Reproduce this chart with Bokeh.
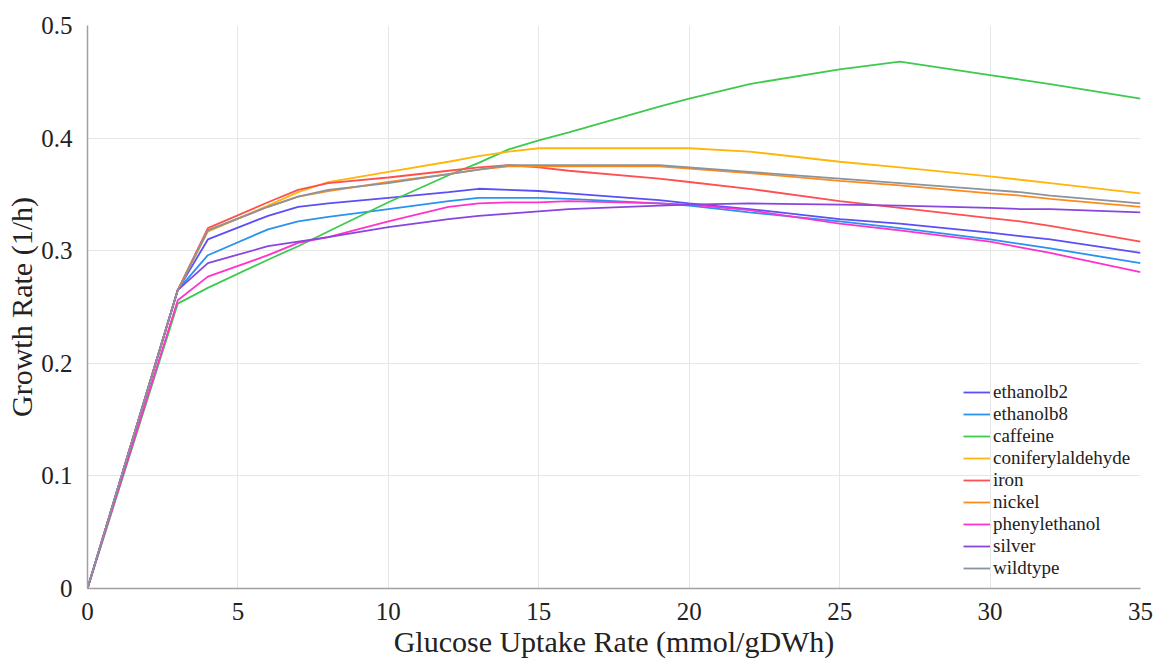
from bokeh.plotting import figure
from bokeh.embed import file_html
from bokeh.resources import INLINE
from bokeh.models import FixedTicker, Legend, LegendItem

# ---- data ----
uptake = [0, 3, 4, 6, 7, 8, 10, 12, 13, 14, 15, 16, 19, 20, 22, 25, 27, 30, 31, 32, 35]

ethanolb2 = [0, 0.265, 0.310, 0.331, 0.339, 0.342, 0.347, 0.352, 0.355, 0.354, 0.353, 0.351, 0.345, 0.342, 0.337, 0.328, 0.324, 0.316, 0.313, 0.310, 0.298]
ethanolb8 = [0, 0.265, 0.296, 0.319, 0.326, 0.330, 0.337, 0.344, 0.347, 0.347, 0.347, 0.346, 0.342, 0.340, 0.334, 0.326, 0.320, 0.310, 0.306, 0.302, 0.289]
caffeine = [0, 0.253, 0.267, 0.292, 0.304, 0.317, 0.343, 0.367, 0.378, 0.390, 0.398, 0.405, 0.428, 0.435, 0.448, 0.461, 0.468, 0.456, 0.452, 0.448, 0.435]
coniferylaldehyde = [0, 0.265, 0.317, 0.340, 0.352, 0.361, 0.370, 0.379, 0.384, 0.388, 0.391, 0.391, 0.391, 0.391, 0.388, 0.379, 0.374, 0.366, 0.363, 0.360, 0.351]
iron = [0, 0.265, 0.320, 0.343, 0.354, 0.360, 0.365, 0.371, 0.374, 0.376, 0.374, 0.371, 0.364, 0.361, 0.355, 0.344, 0.338, 0.329, 0.326, 0.322, 0.308]
nickel = [0, 0.265, 0.318, 0.339, 0.348, 0.353, 0.361, 0.368, 0.372, 0.375, 0.375, 0.375, 0.375, 0.373, 0.369, 0.362, 0.358, 0.351, 0.349, 0.346, 0.339]
phenylethanol = [0, 0.256, 0.277, 0.296, 0.307, 0.312, 0.326, 0.339, 0.342, 0.343, 0.343, 0.344, 0.342, 0.341, 0.336, 0.324, 0.318, 0.308, 0.303, 0.298, 0.281]
silver = [0, 0.265, 0.289, 0.304, 0.308, 0.312, 0.321, 0.328, 0.331, 0.333, 0.335, 0.337, 0.340, 0.341, 0.342, 0.341, 0.340, 0.338, 0.337, 0.337, 0.334]
wildtype = [0, 0.265, 0.318, 0.339, 0.348, 0.354, 0.360, 0.368, 0.372, 0.376, 0.376, 0.376, 0.376, 0.374, 0.370, 0.364, 0.360, 0.354, 0.352, 0.349, 0.342]

names = ["ethanolb2", "ethanolb8", "caffeine", "coniferylaldehyde", "iron",
         "nickel", "phenylethanol", "silver", "wildtype"]
series = [ethanolb2, ethanolb8, caffeine, coniferylaldehyde, iron,
          nickel, phenylethanol, silver, wildtype]
colors = ["#5b4ff5", "#2a92f0", "#3ec94f", "#ffb60a", "#ff4f4f",
          "#ff8a1c", "#ff33cc", "#8a45e0", "#8a949e"]

x_ticks = [0, 5, 10, 15, 20, 25, 30, 35]
y_ticks = [0, 0.1, 0.2, 0.3, 0.4, 0.5]
y_tick_labels = ["0", "0.1", "0.2", "0.3", "0.4", "0.5"]

FONT = "serif"

p = figure(width=1157, height=661, output_backend="svg", toolbar_location=None,
           x_range=(0, 35), y_range=(0, 0.5),
           min_border_left=87, min_border_right=17, min_border_top=25, min_border_bottom=73)
p.outline_line_color = None
p.background_fill_color = "white"

items = []
for name, ys, c in zip(names, series, colors):
    r = p.line(uptake, ys, line_color=c, line_width=1.8)
    items.append(LegendItem(label=name, renderers=[r]))

# axes
for ax in (p.xaxis, p.yaxis):
    ax.axis_line_color = "#a0a0a0"
    ax.axis_line_width = 1.5
    ax.major_tick_line_color = None
    ax.minor_tick_line_color = None
    ax.major_label_text_font = FONT
    ax.major_label_text_font_size = "25px"
    ax.major_label_text_color = "#222222"
    ax.axis_label_text_font = FONT
    ax.axis_label_text_font_size = "30px"
    ax.axis_label_text_font_style = "normal"
    ax.axis_label_text_color = "#222222"

p.xaxis.ticker = FixedTicker(ticks=x_ticks)
p.yaxis.ticker = FixedTicker(ticks=y_ticks)
p.yaxis.major_label_overrides = {t: l for t, l in zip(y_ticks, y_tick_labels)}
p.xaxis.axis_label = "Glucose Uptake Rate (mmol/gDWh)"
p.yaxis.axis_label = "Growth Rate (1/h)"
p.xaxis.major_label_standoff = 8
p.yaxis.major_label_standoff = 9
p.xaxis.axis_label_standoff = 2
p.yaxis.axis_label_standoff = 0

p.xgrid.ticker = FixedTicker(ticks=x_ticks)
p.ygrid.ticker = FixedTicker(ticks=y_ticks)
p.grid.grid_line_color = "#e6e6e6"
p.grid.grid_line_width = 1

legend = Legend(items=items, location=(876, 9))
legend.label_text_font = FONT
legend.label_text_font_size = "19px"
legend.label_text_color = "#222222"
legend.glyph_width = 27
legend.glyph_height = 22
legend.label_height = 22
legend.label_standoff = 3
legend.spacing = 0
legend.padding = 0
legend.margin = 0
legend.border_line_alpha = 0
legend.background_fill_alpha = 0
p.add_layout(legend)

open("out.html", "w").write(file_html(p, INLINE))
